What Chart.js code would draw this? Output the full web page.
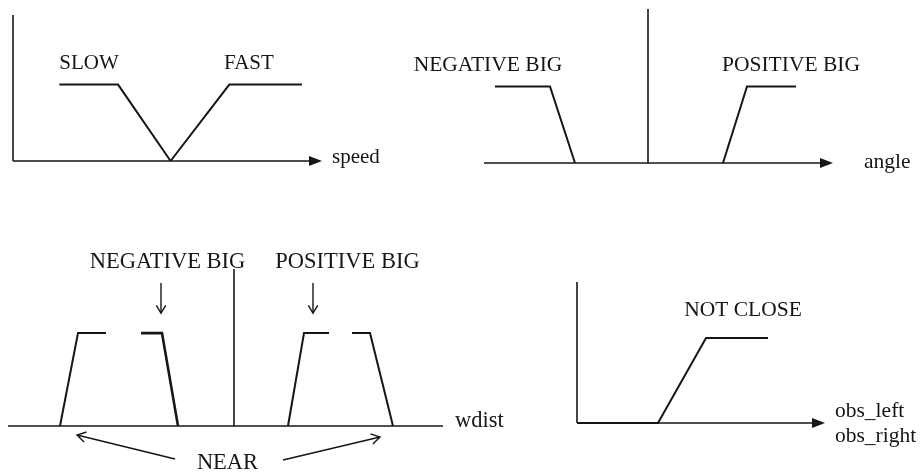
<!DOCTYPE html>
<html>
<head>
<meta charset="utf-8">
<script src="https://cdn.jsdelivr.net/npm/chart.js@4.4.1/dist/chart.umd.min.js"></script>
<style>
  body { margin: 0; background: #fff; }
  #wrap { position: relative; width: 920px; height: 476px; overflow: hidden; background: #fff; }
  #wrap canvas { position: absolute; }
</style>
</head>
<body>
<div id="wrap">
  <canvas id="c-speed" width="460" height="200" style="left:0;top:0"></canvas>
  <canvas id="c-angle" width="540" height="200" style="left:380px;top:0"></canvas>
  <canvas id="c-wdist" width="560" height="246" style="left:0;top:230px"></canvas>
  <canvas id="c-obs" width="360" height="216" style="left:560px;top:260px"></canvas>
</div>
<script>
// membership functions: breakpoints (x) and degree of membership (y)
const speedSlowX = [3, 6.8, 10.2];
const speedSlowY = [1, 1, 0];
const speedFastX = [10.2, 14, 18.7];
const speedFastY = [0, 1, 1];

const angleNegX = [-76.5, -49, -36.5];
const angleNegY = [1, 1, 0];
const anglePosX = [37.5, 49.5, 74];
const anglePosY = [0, 1, 1];

const wdistNearLX = [-87, -78, -64];
const wdistNearLY = [0, 1, 1];
const wdistNegX = [-46.5, -36, -28];
const wdistNegY = [1, 1, 0];
const wdistPosX = [27, 35, 47.5];
const wdistPosY = [0, 1, 1];
const wdistNearRX = [59, 68, 79.5];
const wdistNearRY = [1, 1, 0];

const obsNotCloseX = [0, 40.5, 64.5, 95.5];
const obsNotCloseY = [0, 0, 1, 1];

// term names and axis names
const speedTerms = ['SLOW', 'FAST'];
const angleTerms = ['NEGATIVE BIG', 'POSITIVE BIG'];
const wdistTerms = ['NEGATIVE BIG', 'POSITIVE BIG', 'NEAR'];
const obsTerms = ['NOT CLOSE'];
const axisNames = ['speed', 'angle', 'wdist', 'obs_left', 'obs_right'];

const ink = '#161616';

function pts(xs, ys) {
  return xs.map(function (x, i) { return { x: x, y: ys[i] }; });
}

function line(xs, ys, width) {
  return {
    data: pts(xs, ys),
    borderColor: ink,
    borderWidth: width || 2,
    pointRadius: 0,
    tension: 0,
    fill: false,
    clip: false
  };
}

function openHead(ctx, x0, y0, x1, y1, len) {
  const a = Math.atan2(y1 - y0, x1 - x0);
  ctx.beginPath();
  ctx.moveTo(x1 - len * Math.cos(a - 0.55), y1 - len * Math.sin(a - 0.55));
  ctx.lineTo(x1, y1);
  ctx.lineTo(x1 - len * Math.cos(a + 0.55), y1 - len * Math.sin(a + 0.55));
  ctx.stroke();
}

// axes, arrows and text, all placed through the chart's scales
const sketch = {
  id: 'sketch',
  afterDatasetsDraw(chart, args, o) {
    const ctx = chart.ctx;
    const x = chart.scales.x, y = chart.scales.y;
    const px = function (v) { return x.getPixelForValue(v); };
    const py = function (v) { return y.getPixelForValue(v); };
    ctx.save();
    ctx.strokeStyle = ink;
    ctx.fillStyle = ink;
    ctx.lineWidth = 1.6;

    // horizontal axis
    const yb = py(0);
    const xEnd = px(x.max);
    ctx.beginPath();
    ctx.moveTo(px(x.min), yb);
    ctx.lineTo(o.arrow ? xEnd - 8 : xEnd, yb);
    ctx.stroke();
    if (o.arrow) {
      ctx.beginPath();
      ctx.moveTo(xEnd, yb);
      ctx.lineTo(xEnd - 13, yb - 5);
      ctx.lineTo(xEnd - 13, yb + 5);
      ctx.closePath();
      ctx.fill();
    }

    // vertical axis / centre line
    if (o.vAt !== undefined) {
      ctx.beginPath();
      ctx.moveTo(px(o.vAt), yb);
      ctx.lineTo(px(o.vAt), py(y.max));
      ctx.stroke();
    }

    // pointer arrows
    (o.pointers || []).forEach(function (p) {
      const x0 = px(p.from[0]), y0 = py(p.from[1]);
      const x1 = px(p.to[0]), y1 = py(p.to[1]);
      ctx.lineWidth = 1.4;
      ctx.beginPath();
      ctx.moveTo(x0, y0);
      ctx.lineTo(x1, y1);
      ctx.stroke();
      openHead(ctx, x0, y0, x1, y1, p.head || 10);
    });

    // text
    ctx.font = (o.fontSize || 20) + 'px "Liberation Serif", "Times New Roman", serif';
    ctx.textBaseline = 'middle';
    (o.labels || []).forEach(function (l) {
      ctx.textAlign = l.align || 'center';
      ctx.fillText(l.text, px(l.at[0]), py(l.at[1]));
    });
    ctx.restore();
  }
};

function panel(id, pad, xr, yr, datasets, deco) {
  return new Chart(document.getElementById(id), {
    type: 'line',
    data: { datasets: datasets },
    plugins: [sketch],
    options: {
      responsive: false,
      animation: false,
      events: [],
      layout: { padding: pad },
      plugins: { legend: { display: false }, tooltip: { enabled: false }, sketch: deco },
      scales: {
        x: { type: 'linear', display: false, min: xr[0], max: xr[1] },
        y: { type: 'linear', display: false, min: yr[0], max: yr[1] }
      }
    }
  });
}

panel('c-speed', { left: 13, right: 138, top: 15, bottom: 39 }, [0, 20], [0, 1.91],
  [line(speedSlowX, speedSlowY), line(speedFastX, speedFastY)],
  {
    arrow: true, vAt: 0, fontSize: 21,
    labels: [
      { text: speedTerms[0], at: [4.92, 1.28] },
      { text: speedTerms[1], at: [15.27, 1.27] },
      { text: axisNames[0], at: [20.65, 0.05], align: 'left' }
    ]
  });

panel('c-angle', { left: 104, right: 87, top: 9, bottom: 37 }, [-82, 92.5], [0, 2.01],
  [line(angleNegX, angleNegY), line(anglePosX, anglePosY)],
  {
    arrow: true, vAt: 0, fontSize: 21.5,
    labels: [
      { text: angleTerms[0], at: [-80, 1.27] },
      { text: angleTerms[1], at: [71.5, 1.27] },
      { text: axisNames[1], at: [108, 0.01], align: 'left' }
    ]
  });

panel('c-wdist', { left: 8, right: 117, top: 39, bottom: 50 }, [-113, 104.5], [0, 1.69],
  [line(wdistNearLX, wdistNearLY), line(wdistNegX, wdistNegY, 2.6),
   line(wdistPosX, wdistPosY), line(wdistNearRX, wdistNearRY)],
  {
    arrow: false, vAt: 0, fontSize: 22.5,
    pointers: [
      { from: [-36.5, 1.54], to: [-36.5, 1.215], head: 9 },
      { from: [39.5, 1.54], to: [39.5, 1.215], head: 9 },
      { from: [-29.5, -0.355], to: [-78.5, -0.097] },
      { from: [24.5, -0.366], to: [73, -0.118] }
    ],
    labels: [
      { text: wdistTerms[0], at: [-33.25, 1.76] },
      { text: wdistTerms[1], at: [56.75, 1.76] },
      { text: wdistTerms[2], at: [-3.25, -0.4] },
      { text: axisNames[2], at: [110.5, 0.05], align: 'left' }
    ]
  });

panel('c-obs', { left: 17, right: 95, top: 22, bottom: 53 }, [0, 124], [0, 1.66],
  [line(obsNotCloseX, obsNotCloseY)],
  {
    arrow: true, vAt: 0, fontSize: 21.5,
    labels: [
      { text: obsTerms[0], at: [83, 1.33] },
      { text: axisNames[3], at: [129, 0.14], align: 'left' },
      { text: axisNames[4], at: [129, -0.16], align: 'left' }
    ]
  });
</script>
</body>
</html>
